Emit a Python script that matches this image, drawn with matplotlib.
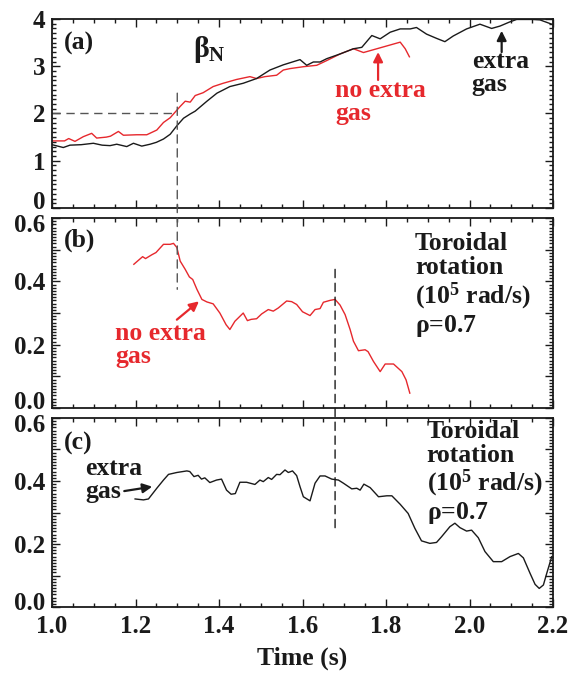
import matplotlib
matplotlib.use("Agg")
import matplotlib.pyplot as plt
from matplotlib.ticker import MultipleLocator, FuncFormatter
from matplotlib.patches import ConnectionPatch
import matplotlib.transforms as mtransforms

plt.rcParams['font.family'] = ['Liberation Serif', 'DejaVu Serif']
plt.rcParams['font.weight'] = 'bold'
plt.rcParams['mathtext.fontset'] = 'custom'
plt.rcParams['mathtext.rm'] = 'Liberation Serif'
plt.rcParams['mathtext.bf'] = 'Liberation Serif:bold'
plt.rcParams['mathtext.it'] = 'Liberation Serif:italic'

RED = '#e6282d'
BLACK = '#1a1a1a'
DASH = '#555555'

# ---- (a) beta_N, shot with extra gas (black) ----
beta_gas_t = [1.000, 1.027, 1.043, 1.070, 1.099, 1.120, 1.139, 1.155, 1.179, 1.195,
              1.215, 1.235, 1.250, 1.267, 1.283, 1.299, 1.315, 1.331, 1.343, 1.371,
              1.395, 1.426, 1.458, 1.490, 1.522, 1.554, 1.594, 1.610, 1.626, 1.642,
              1.658, 1.690, 1.722, 1.742, 1.766, 1.786, 1.810, 1.834, 1.858, 1.873,
              1.897, 1.921, 1.941, 1.961, 1.993, 2.025, 2.053, 2.073, 2.097, 2.113,
              2.150, 2.169, 2.200]
beta_gas = [1.34, 1.28, 1.33, 1.34, 1.37, 1.33, 1.32, 1.35, 1.30, 1.37,
            1.31, 1.35, 1.39, 1.46, 1.56, 1.74, 1.90, 1.99, 2.05, 2.26,
            2.43, 2.57, 2.64, 2.74, 2.92, 3.03, 3.14, 3.02, 3.09, 3.09,
            3.16, 3.26, 3.37, 3.40, 3.65, 3.58, 3.72, 3.79, 3.79, 3.82,
            3.68, 3.59, 3.52, 3.64, 3.79, 3.89, 3.80, 3.85, 3.94, 3.99,
            3.99, 3.98, 3.88]

# ---- (a) beta_N, shot without extra gas (red) ----
beta_nogas_t = [1.000, 1.030, 1.040, 1.055, 1.075, 1.095, 1.107, 1.130, 1.140, 1.159,
                1.171, 1.203, 1.227, 1.251, 1.267, 1.283, 1.295, 1.307, 1.319, 1.331,
                1.343, 1.362, 1.386, 1.410, 1.442, 1.474, 1.490, 1.510, 1.538, 1.554,
                1.570, 1.602, 1.634, 1.658, 1.690, 1.722, 1.746, 1.778, 1.810, 1.834,
                1.846, 1.856]
beta_nogas = [1.42, 1.42, 1.47, 1.41, 1.51, 1.58, 1.48, 1.50, 1.52, 1.62,
              1.54, 1.55, 1.55, 1.65, 1.81, 1.91, 2.03, 2.15, 2.26, 2.24,
              2.38, 2.44, 2.57, 2.64, 2.72, 2.78, 2.74, 2.78, 2.81, 2.92,
              2.95, 2.99, 3.02, 3.12, 3.26, 3.37, 3.29, 3.37, 3.45, 3.51,
              3.37, 3.20]

# ---- (b) toroidal rotation, no extra gas ----
rot_nogas_t = [1.196, 1.217, 1.224, 1.239, 1.249, 1.267, 1.283, 1.291, 1.299, 1.307,
               1.319, 1.329, 1.337, 1.347, 1.359, 1.371, 1.386, 1.402, 1.417, 1.426,
               1.438, 1.458, 1.468, 1.477, 1.490, 1.502, 1.518, 1.530, 1.542, 1.562,
               1.574, 1.586, 1.600, 1.618, 1.630, 1.642, 1.650, 1.666, 1.678, 1.690,
               1.702, 1.714, 1.722, 1.734, 1.750, 1.757, 1.770, 1.786, 1.798, 1.818,
               1.838, 1.848, 1.857]
rot_nogas = [0.454, 0.478, 0.472, 0.484, 0.491, 0.517, 0.517, 0.520, 0.507, 0.464,
             0.438, 0.414, 0.406, 0.375, 0.343, 0.335, 0.329, 0.300, 0.263, 0.248,
             0.274, 0.300, 0.276, 0.280, 0.282, 0.297, 0.311, 0.306, 0.316, 0.338,
             0.336, 0.327, 0.304, 0.292, 0.311, 0.314, 0.334, 0.340, 0.343, 0.325,
             0.295, 0.248, 0.211, 0.181, 0.184, 0.178, 0.147, 0.115, 0.139, 0.139,
             0.115, 0.089, 0.047]

# ---- (c) toroidal rotation, extra gas ----
rot_gas_t = [1.199, 1.219, 1.231, 1.251, 1.267, 1.279, 1.299, 1.323, 1.330, 1.340,
             1.350, 1.358, 1.366, 1.378, 1.394, 1.406, 1.418, 1.429, 1.439, 1.450,
             1.466, 1.486, 1.498, 1.506, 1.518, 1.526, 1.538, 1.546, 1.558, 1.566,
             1.576, 1.586, 1.594, 1.602, 1.618, 1.630, 1.642, 1.654, 1.670, 1.686,
             1.698, 1.718, 1.730, 1.738, 1.747, 1.762, 1.782, 1.802, 1.814, 1.834,
             1.853, 1.869, 1.885, 1.905, 1.921, 1.933, 1.953, 1.965, 1.977, 1.993,
             2.005, 2.021, 2.037, 2.057, 2.077, 2.097, 2.117, 2.129, 2.145, 2.157,
             2.167, 2.177, 2.185, 2.197]
rot_gas = [0.343, 0.340, 0.343, 0.377, 0.403, 0.421, 0.427, 0.432, 0.430, 0.414,
           0.418, 0.406, 0.410, 0.395, 0.403, 0.406, 0.371, 0.358, 0.360, 0.396,
           0.396, 0.389, 0.403, 0.398, 0.411, 0.405, 0.421, 0.420, 0.435, 0.427,
           0.432, 0.417, 0.382, 0.350, 0.337, 0.393, 0.416, 0.416, 0.406, 0.403,
           0.393, 0.375, 0.377, 0.371, 0.390, 0.379, 0.350, 0.353, 0.353, 0.326,
           0.297, 0.250, 0.210, 0.202, 0.205, 0.223, 0.255, 0.266, 0.252, 0.241,
           0.244, 0.220, 0.176, 0.144, 0.144, 0.160, 0.170, 0.156, 0.107, 0.072,
           0.059, 0.070, 0.107, 0.160]

t_onset = 1.3        # time marker for the beta_N = 2 crossing
t_rot_drop = 1.678   # time marker for the rotation drop
beta_ref = 2.0

FS = 18.5
TFS = 18

fig = plt.figure(figsize=(5.71, 6.78), dpi=100)
L, W = 0.0911, 0.8774
ax_a = fig.add_axes([L, 0.6932, W, 0.2788])
ax_b = fig.add_axes([L, 0.3982, W, 0.2802])
ax_c = fig.add_axes([L, 0.1047, W, 0.2788])

for ax in (ax_a, ax_b, ax_c):
    ax.set_xlim(1.0, 2.2)
    ax.xaxis.set_major_locator(MultipleLocator(0.2))
    ax.xaxis.set_minor_locator(MultipleLocator(0.05))
    ax.tick_params(which='both', direction='in', top=True, right=True,
                   labelsize=TFS, width=1.0, colors=BLACK)
    ax.tick_params(which='major', length=6)
    ax.tick_params(which='minor', length=3)
    ax.tick_params(axis='y', which='major', pad=5)
    ax.tick_params(axis='x', which='major', pad=6)
    for s in ax.spines.values():
        s.set_linewidth(1.3)
        s.set_color(BLACK)

ax_a.tick_params(labelbottom=False)
ax_b.tick_params(labelbottom=False)
ax_c.xaxis.set_major_formatter(FuncFormatter(lambda v, p: f"{v:.1f}"))

# (a)
ax_a.set_ylim(0, 4)
ax_a.yaxis.set_major_locator(MultipleLocator(1))
ax_a.yaxis.set_minor_locator(MultipleLocator(0.1))
ax_a.yaxis.set_major_formatter(FuncFormatter(lambda v, p: f"{v:.0f}"))
ax_a.plot(beta_nogas_t, beta_nogas, color=RED, lw=1.0)
ax_a.plot(beta_gas_t, beta_gas, color=BLACK, lw=1.0)
ax_a.plot([1.0, t_onset], [beta_ref, beta_ref], color=DASH, lw=1.0, dashes=(6, 4))

def even_fmt(v, p):
    k = int(round(v * 10))
    return f"{v:.1f}" if k % 2 == 0 else ""

for ax in (ax_b, ax_c):
    ax.set_ylim(0, 0.6)
    ax.yaxis.set_major_locator(MultipleLocator(0.1))
    ax.yaxis.set_minor_locator(MultipleLocator(0.01))
    ax.yaxis.set_major_formatter(FuncFormatter(even_fmt))

ax_b.plot(rot_nogas_t, rot_nogas, color=RED, lw=1.0)
ax_c.plot(rot_gas_t, rot_gas, color=BLACK, lw=1.0)

# vertical time markers spanning neighbouring panels
con1 = ConnectionPatch(xyA=(t_onset, 2.43), coordsA=ax_a.transData,
                       xyB=(t_onset, 0.375), coordsB=ax_b.transData,
                       color=DASH, lw=1.0, linestyle=(0, (6, 4)))
fig.add_artist(con1)
con2 = ConnectionPatch(xyA=(t_rot_drop, 0.438), coordsA=ax_b.transData,
                       xyB=(t_rot_drop, 0.24), coordsB=ax_c.transData,
                       color=BLACK, lw=1.0, linestyle=(0, (6, 4)))
fig.add_artist(con2)

# panel labels
ax_a.text(0.024, 0.873, "(a)", transform=ax_a.transAxes, fontsize=FS,
          fontweight='bold', va='center', ha='left', color=BLACK)
ax_b.text(0.024, 0.884, "(b)", transform=ax_b.transAxes, fontsize=FS,
          fontweight='bold', va='center', ha='left', color=BLACK)
ax_c.text(0.024, 0.866, "(c)", transform=ax_c.transAxes, fontsize=FS,
          fontweight='bold', va='center', ha='left', color=BLACK)

ax_a.text(0.281, 0.836, r"$\mathrm{\beta}_{\mathbf{N}}$", transform=ax_a.transAxes,
          fontsize=FS + 3, va='center', ha='left', color=BLACK)

# annotations
ax_a.text(0.565, 0.563, "no extra\ngas", transform=ax_a.transAxes, fontsize=FS,
          fontweight='bold', color=RED, va='center', ha='left', linespacing=1.0)
ax_a.annotate("", xy=(1.781, 3.30), xytext=(1.781, 2.71),
              arrowprops=dict(arrowstyle='-|>', color=RED, lw=1.6, mutation_scale=14,
                              shrinkA=0, shrinkB=0))
ax_a.text(0.838, 0.713, "extra\ngas", transform=ax_a.transAxes, fontsize=FS,
          fontweight='bold', color=BLACK, va='center', ha='left', linespacing=1.0)
ax_a.annotate("", xy=(2.077, 3.75), xytext=(2.077, 3.30),
              arrowprops=dict(arrowstyle='-|>', color=BLACK, lw=1.6, mutation_scale=14,
                              shrinkA=0, shrinkB=0))

ax_b.text(0.126, 0.332, "no extra\ngas", transform=ax_b.transAxes, fontsize=FS,
          fontweight='bold', color=RED, va='center', ha='left', linespacing=1.0)
ax_b.annotate("", xy=(1.352, 0.337), xytext=(1.299, 0.279),
              arrowprops=dict(arrowstyle='-|>', color=RED, lw=1.6, mutation_scale=14,
                              shrinkA=0, shrinkB=0))

ax_c.text(0.066, 0.672, "extra\ngas", transform=ax_c.transAxes, fontsize=FS,
          fontweight='bold', color=BLACK, va='center', ha='left', linespacing=1.0)
ax_c.annotate("", xy=(1.240, 0.382), xytext=(1.173, 0.368),
              arrowprops=dict(arrowstyle='-|>', color=BLACK, lw=1.6, mutation_scale=14,
                              shrinkA=0, shrinkB=0))

rot_label = "Toroidal\nrotation\n(10$^{\\mathbf{5}}$ rad/s)\n$\\mathrm{\\rho}$=0.7"
ax_b.text(0.7246, 0.645, rot_label, transform=ax_b.transAxes, fontsize=FS,
          fontweight='bold', color=BLACK, va='center', ha='left', linespacing=1.05)
ax_c.text(0.748, 0.708, rot_label, transform=ax_c.transAxes, fontsize=FS,
          fontweight='bold', color=BLACK, va='center', ha='left', linespacing=1.05)

ax_c.set_xlabel("Time (s)", fontsize=FS, fontweight='bold', labelpad=6, color=BLACK)

# nudge the end labels of each y axis inward so neighbouring panels don't collide
fig.canvas.draw()
def nudge(ax, lo_pts, hi_pts):
    ymin, ymax = ax.get_ylim()
    for tick in ax.yaxis.get_major_ticks():
        loc = tick.get_loc()
        lab = tick.label1
        if abs(loc - ymin) < 1e-9:
            lab.set_transform(lab.get_transform() +
                              mtransforms.ScaledTranslation(0, lo_pts / 72, fig.dpi_scale_trans))
        elif abs(loc - ymax) < 1e-9:
            lab.set_transform(lab.get_transform() +
                              mtransforms.ScaledTranslation(0, hi_pts / 72, fig.dpi_scale_trans))

nudge(ax_a, 5.5, 0.0)
nudge(ax_b, 5.5, -3.5)
nudge(ax_c, 4.0, -3.5)

fig.savefig("out.png", dpi=100)
